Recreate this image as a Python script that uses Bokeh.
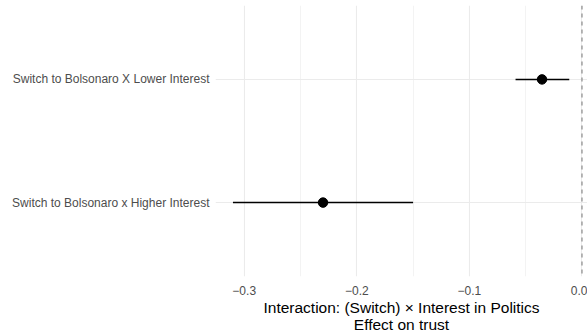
from bokeh.plotting import figure
from bokeh.models import Range1d, FixedTicker, Span, ColumnDataSource, CustomJSTickFormatter
from bokeh.embed import file_html
from bokeh.resources import INLINE

# ---- data ----
terms = ["Switch to Bolsonaro x Higher Interest", "Switch to Bolsonaro X Lower Interest"]
estimate = [-0.230, -0.0355]
conf_low = [-0.310, -0.059]
conf_high = [-0.150, -0.0113]
x_ticks = [-0.3, -0.2, -0.1, 0.0]
x_tick_labels = ["\u22120.3", "\u22120.2", "\u22120.1", "0.0"]
x_minor = [-0.25, -0.15, -0.05]
ref_line = 0.0
axis_title = "Interaction: (Switch) \u00d7 Interest in Politics\nEffect on trust"

ypos = [i + 1 for i in range(len(terms))]
src = ColumnDataSource(dict(term=terms, y=ypos, est=estimate, lo=conf_low, hi=conf_high))

FONT = "Liberation Sans"
GRID = "#EBEBEB"
TICKCOL = "#4D4D4D"

p = figure(width=587, height=336, output_backend="svg", toolbar_location=None,
           x_range=Range1d(-0.3255, 0.0049), y_range=Range1d(0.4, 2.6),
           min_border_left=215, min_border_right=0, min_border_top=5,
           min_border_bottom=56)
p.outline_line_color = None
p.background_fill_color = "white"
p.border_fill_color = "white"

LOOKUP = ("const i = tv.findIndex(t => Math.abs(t - tick) < 1e-9); "
          "return i >= 0 ? lab[i] : '';")

# x axis
p.xaxis.ticker = FixedTicker(ticks=x_ticks, minor_ticks=x_minor)
p.xaxis.formatter = CustomJSTickFormatter(args=dict(tv=x_ticks, lab=x_tick_labels), code=LOOKUP)
# y axis
p.yaxis.ticker = FixedTicker(ticks=ypos)
p.yaxis.formatter = CustomJSTickFormatter(args=dict(tv=ypos, lab=terms), code=LOOKUP)

for ax in (p.xaxis[0], p.yaxis[0]):
    ax.axis_line_color = None
    ax.major_tick_line_color = None
    ax.minor_tick_line_color = None
    ax.major_tick_out = 0
    ax.major_tick_in = 0
    ax.minor_tick_out = 0
    ax.minor_tick_in = 0
    ax.major_label_text_font = FONT
    ax.major_label_text_font_size = "12px"
    ax.major_label_text_color = TICKCOL
p.xaxis.major_label_standoff = 9
p.yaxis.major_label_standoff = 6

p.xaxis.axis_label = axis_title
p.xaxis.axis_label_text_font = FONT
p.xaxis.axis_label_text_font_size = "15.5px"
p.xaxis.axis_label_text_font_style = "normal"
p.xaxis.axis_label_text_color = "black"
p.xaxis.axis_label_text_line_height = 1.05
p.xaxis.axis_label_standoff = 1

# grids
p.xgrid.grid_line_color = GRID
p.xgrid.grid_line_width = 1.1
p.xgrid.minor_grid_line_color = GRID
p.xgrid.minor_grid_line_width = 0.6
p.ygrid.grid_line_color = GRID
p.ygrid.grid_line_width = 1.1

# reference line
p.add_layout(Span(location=ref_line, dimension="height", line_color="#808080",
                  line_dash="4 4", line_width=1.1))

# error bars and points
p.segment(x0="lo", y0="y", x1="hi", y1="y", source=src, line_color="black", line_width=1.5)
p.scatter(x="est", y="y", source=src, size=9.5, color="black")

open("out.html", "w").write(file_html(p, INLINE))
